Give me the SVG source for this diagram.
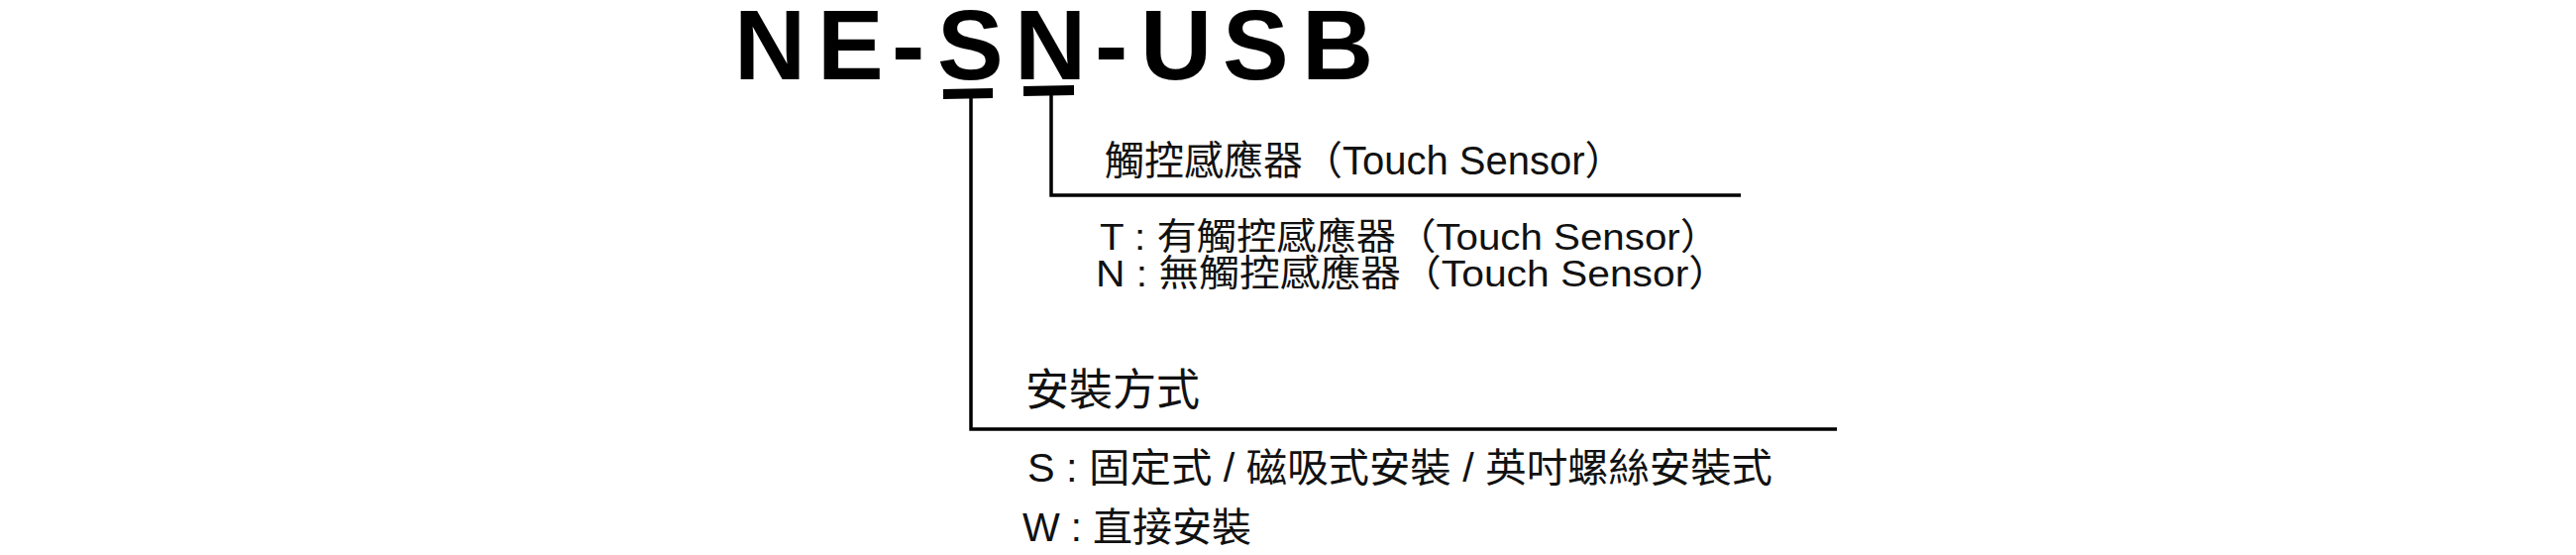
<svg xmlns="http://www.w3.org/2000/svg" width="2600" height="560" viewBox="0 0 2600 560">
<style>
.t{font-family:"Liberation Sans","Noto Sans CJK TC",sans-serif;fill:#111;}
.title{font-family:"Liberation Sans",Arial,sans-serif;font-weight:bold;font-size:100px;fill:#000;}
.ln{fill:none;stroke:#000;stroke-width:3.5;}
.bar{fill:#000;}
</style>
<rect width="2600" height="560" fill="#fff"/>
<g id="title">
<text class="title" x="741 825 900 946 1024 1105 1151 1234 1314" y="80">NE-SN-USB</text>
<polygon class="bar" points="952,90 1002,89 1002,99 952,100"/>
<polygon class="bar" points="1033,87 1084,86 1084,96 1033,97"/>
</g>
<g id="connectors">
<polyline class="ln" points="1061,96 1061,197 1757,197"/>
<polyline class="ln" points="980,99 980,433 1854,433"/>
</g>
<g id="node-sensor">
<text class="t" x="1115" y="176" font-size="40">觸控感應器（Touch Sensor）</text>
<text class="t" x="1110" y="252" font-size="37" textLength="626" lengthAdjust="spacingAndGlyphs">T : 有觸控感應器（Touch Sensor）</text>
<text class="t" x="1106" y="289" font-size="37" textLength="639" lengthAdjust="spacingAndGlyphs">N : 無觸控感應器（Touch Sensor）</text>
</g>
<g id="node-mount">
<text class="t" x="1035" y="409" font-size="44">安裝方式</text>
<text class="t" x="1037" y="486" font-size="40" textLength="752" lengthAdjust="spacingAndGlyphs">S : 固定式 / 磁吸式安裝 / 英吋螺絲安裝式</text>
<text class="t" x="1032" y="546" font-size="40">W : 直接安裝</text>
</g>
</svg>
